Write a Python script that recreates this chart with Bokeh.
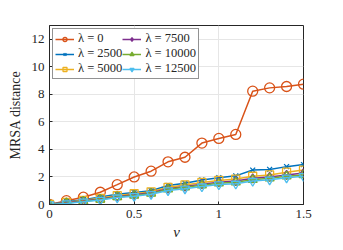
from bokeh.plotting import figure
from bokeh.models import Range1d, FixedTicker, CustomJSTickFormatter, Legend, LegendItem
from bokeh.embed import file_html
from bokeh.resources import INLINE

nu = [0, 0.1, 0.2, 0.3, 0.4, 0.5, 0.6, 0.7, 0.8, 0.9, 1.0, 1.1, 1.2, 1.3, 1.4, 1.5]
d_0 = [0, 0.28, 0.53, 0.89, 1.44, 2.0, 2.42, 3.1, 3.43, 4.46, 4.8, 5.09, 8.23, 8.47, 8.57, 8.74]
d_2500 = [0, 0.2, 0.35, 0.55, 0.75, 0.88, 1.0, 1.38, 1.55, 1.78, 1.95, 2.08, 2.5, 2.55, 2.75, 2.9]
d_5000 = [0, 0.15, 0.3, 0.45, 0.65, 0.78, 0.92, 1.25, 1.42, 1.6, 1.75, 1.85, 2.05, 2.15, 2.35, 2.5]
d_7500 = [0, 0.12, 0.25, 0.4, 0.58, 0.7, 0.85, 1.15, 1.3, 1.48, 1.62, 1.7, 1.9, 2.0, 2.15, 2.28]
d_10000 = [0, 0.1, 0.22, 0.36, 0.55, 0.66, 0.8, 1.1, 1.25, 1.4, 1.55, 1.62, 1.8, 1.9, 2.05, 2.15]
d_12500 = [0, 0.08, 0.2, 0.33, 0.5, 0.6, 0.75, 1.02, 1.15, 1.3, 1.45, 1.5, 1.7, 1.8, 1.95, 2.05]
labels = ["λ = 0", "λ = 2500", "λ = 5000", "λ = 7500", "λ = 10000", "λ = 12500"]
x_ticks = [0, 0.5, 1, 1.5]
y_ticks = [0, 2, 4, 6, 8, 10, 12]

series = [d_0, d_2500, d_5000, d_7500, d_10000, d_12500]
colors = ["#D95319", "#0072BD", "#EDB120", "#7E2F8E", "#77AC30", "#4DBEEE"]
markers = ["circle", "x", "square", "diamond", "triangle", "inverted_triangle"]
sizes = [10, 7, 8, 9, 9, 9]

FONT = "Liberation Serif"

p = figure(width=327, height=242, output_backend="svg", toolbar_location=None,
           x_range=Range1d(0, 1.5), y_range=Range1d(0, 13),
           min_border_left=49, min_border_right=24, min_border_top=25, min_border_bottom=30)
p.background_fill_color = "white"
p.border_fill_color = "white"
p.outline_line_color = "#262626"
p.outline_line_width = 1

items = []
for ys, c, m, s, lab in zip(series, colors, markers, sizes, labels):
    r1 = p.line(nu, ys, line_color=c, line_width=1.5)
    r2 = p.scatter(nu, ys, marker=m, size=s, line_color=c, fill_color=None, line_width=1.3)
    items.append(LegendItem(label=lab, renderers=[r1, r2]))

p.xaxis.ticker = FixedTicker(ticks=x_ticks)
p.yaxis.ticker = FixedTicker(ticks=y_ticks)
p.xaxis.formatter = CustomJSTickFormatter(code="return String(tick);")
for ax in (p.xaxis[0], p.yaxis[0]):
    ax.major_label_text_font = FONT
    ax.major_label_text_font_size = "13px"
    ax.major_label_text_color = "#262626"
    ax.axis_line_color = "#262626"
    ax.major_tick_line_color = "#262626"
    ax.major_tick_in = 3
    ax.major_tick_out = 0
    ax.minor_tick_line_color = None
    ax.axis_label_text_font = FONT
    ax.axis_label_text_color = "#262626"
    ax.axis_label_text_font_style = "normal"
    ax.major_label_standoff = 5
p.xaxis.axis_label = "ν"
p.xaxis.axis_label_text_font_style = "italic"
p.xaxis.axis_label_text_font_size = "15px"
p.xaxis.axis_label_standoff = 3
p.yaxis.axis_label = "MRSA distance"
p.yaxis.axis_label_text_font_size = "14px"
p.yaxis.axis_label_standoff = 6

p.grid.grid_line_color = "#e6e6e6"
p.grid.grid_line_width = 1

legend = Legend(items=items, location="top_left", ncols=2,
                label_text_font=FONT, label_text_font_size="12.5px",
                label_text_color="#262626",
                border_line_color="#262626", border_line_width=1,
                background_fill_color="white", background_fill_alpha=1,
                glyph_width=19, glyph_height=10, label_height=10,
                spacing=-4, padding=2, margin=3, label_standoff=4)
p.add_layout(legend)

open("out.html", "w").write(file_html(p, INLINE))
